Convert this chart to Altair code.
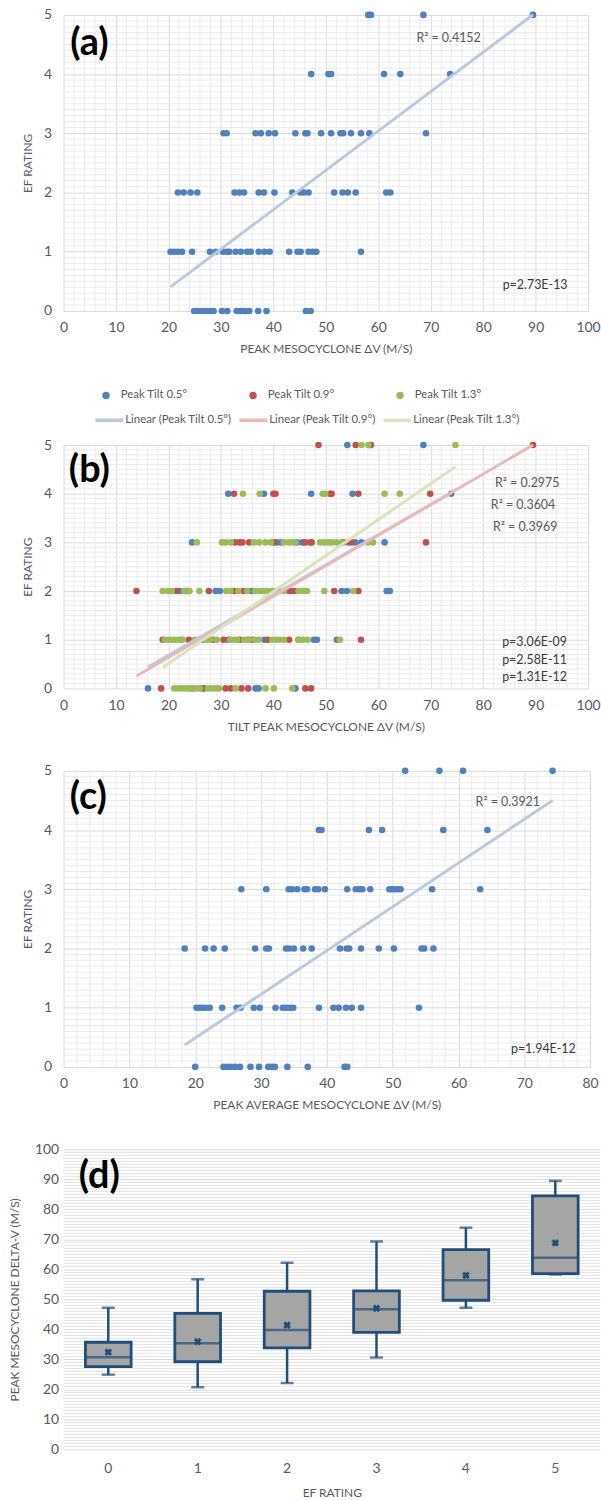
import altair as alt
import pandas as pd

FONT = "Lato"
AXIS_TEXT = "#595959"
NOTE_TEXT = "#3a3a3a"
MAJOR_GRID = "#d9d9d9"
MINOR_GRID = "#ebebeb"
BOX_GRID = "#e2e2e2"
BLUE, RED, GREEN = "#4f81bd", "#c0504d", "#9bbb59"
TREND_BLUE, TREND_RED, TREND_GREEN = "#b9c9de", "#e8b9b8", "#d7e4bd"
BOX_EDGE, BOX_FILL = "#1f4e79", "#a5a5a5"

# ---- (a) peak mesocyclone dV (m/s) of each tornado, grouped by EF rating ----
a_ef0 = [24.9, 25.6, 26.4, 27.2, 28.0, 28.6, 30.2, 31.2, 33.0, 33.8, 34.6, 35.4, 37.1, 38.7, 46.2, 47.1]
a_ef1 = [20.4, 21.1, 21.8, 22.6, 24.5, 27.9, 29.0, 30.4, 31.1, 31.6, 32.8, 33.8, 35.0, 35.7, 37.2,
         38.3, 39.3, 43.0, 44.6, 45.2, 46.7, 47.5, 48.2, 56.7]
a_ef2 = [21.8, 22.9, 24.2, 25.5, 32.6, 33.5, 34.4, 37.2, 38.2, 40.2, 43.6, 45.1, 45.8, 46.7, 51.6,
         53.2, 54.2, 55.7, 61.5, 62.3]
a_ef3 = [30.5, 31.1, 36.6, 37.6, 39.1, 40.3, 44.2, 46.1, 46.5, 49.1, 51.0, 52.8, 53.3, 54.8, 56.7,
         58.3, 69.1]
a_ef4 = [47.2, 50.5, 51.0, 61.1, 64.2, 73.7]
a_ef5 = [58.1, 58.6, 68.6, 89.5]
# least-squares trend (EF = slope * dV + intercept)
a_fit = (0.0665, -0.95)

# ---- (b) peak dV at each radar tilt ----
tilt_names = ["Peak Tilt 0.5°", "Peak Tilt 0.9°", "Peak Tilt 1.3°"]
b05 = [
    [16.1, 24.5, 26.8, 36.6, 37.2, 44.2],
    [22.5, 26.5, 31.4, 35.2, 38.3, 44.8, 47.7, 48.3, 52.1],
    [22.2, 23.8, 29.0, 29.8, 35.8, 40.9, 43.6, 53.0, 54.0, 61.6, 62.2],
    [24.5, 40.7, 41.5, 44.5, 45.5, 47.0, 54.3, 55.6, 56.8, 61.2],
    [31.4, 38.2, 47.2, 55.1, 73.9],
    [54.1, 58.4, 68.6],
]
b09 = [
    [18.6, 26.5, 30.9, 31.9, 33.9, 35.2, 46.1, 47.2],
    [18.9, 23.9, 28.5, 30.5, 33.6, 36.0, 39.0, 43.0, 56.7],
    [13.9, 21.5, 23.2, 27.7, 32.6, 34.3, 43.0, 44.2, 51.6, 56.2],
    [32.6, 33.5, 34.1, 35.4, 40.1, 46.1, 47.3, 53.3, 54.9, 69.1],
    [32.5, 40.0, 40.4, 50.8, 51.1, 56.2, 69.9],
    [48.6, 55.7, 58.6, 89.5],
]
b13 = [
    [21.1, 21.8, 22.5, 23.2, 23.9, 24.6, 25.3, 26.0, 27.5, 28.2, 28.9, 29.6, 32.8, 38.5, 40.1, 43.6],
    [19.3, 20.0, 20.7, 21.3, 22.0, 22.7, 25.0, 25.8, 27.3, 28.0, 29.2, 31.8, 32.5, 33.1, 34.5, 35.3,
     36.5, 37.2, 39.8, 40.5, 41.2, 42.0, 44.8, 45.6, 46.5, 52.7],
    [18.9, 19.9, 20.6, 23.0, 24.0, 25.9, 31.0, 31.8, 33.3, 35.0, 36.5, 37.3, 38.0, 38.8, 39.6, 40.4,
     42.0, 44.8, 45.6, 46.4, 49.7, 55.2],
    [25.4, 30.2, 30.9, 31.9, 36.3, 37.3, 38.5, 39.5, 42.0, 42.9, 43.6, 44.2, 48.9, 49.7, 50.5, 51.1,
     52.0, 53.0, 58.1, 59.0],
    [34.2, 37.4, 49.4, 49.9, 61.2, 64.1],
    [56.8, 58.1, 74.7],
]
b_fit = [(0.0619, -0.558), (0.0628, -0.619), (0.0739, -0.967)]

# ---- (c) peak average mesocyclone dV ----
c_ef0 = [20.0, 24.3, 24.9, 25.5, 26.1, 26.8, 28.4, 29.7, 31.1, 31.6, 32.1, 34.0, 37.1, 42.7, 43.1]
c_ef1 = [20.2, 20.7, 21.1, 21.6, 22.2, 24.1, 26.3, 26.9, 28.9, 29.8, 32.2, 33.3, 33.8, 34.4, 34.9,
         38.8, 41.0, 41.8, 42.9, 43.8, 45.2, 54.0]
c_ef2 = [18.4, 21.5, 22.8, 24.5, 29.1, 30.8, 31.2, 33.8, 34.3, 35.0, 36.4, 37.7, 42.0, 43.0, 43.4,
         45.2, 47.9, 50.2, 54.4, 54.8, 56.2]
c_ef3 = [27.0, 30.8, 34.2, 34.7, 35.5, 36.6, 37.0, 38.2, 38.7, 39.7, 43.1, 44.4, 45.0, 45.4, 46.6,
         49.5, 49.9, 50.3, 50.8, 51.2, 56.0, 63.3]
c_ef4 = [38.8, 39.2, 46.4, 48.4, 57.7, 64.4]
c_ef5 = [51.9, 57.1, 60.7, 74.3]
c_fit = (0.0739, -0.99)

# ---- (d) box-and-whisker summary of peak mesocyclone delta-V ----
d_ratings = ["0", "1", "2", "3", "4", "5"]
d_min = [24.9, 20.7, 22.1, 30.6, 47.2, 58.3]
d_q1 = [27.6, 29.2, 33.8, 39.0, 49.7, 58.6]
d_median = [30.7, 35.4, 39.8, 46.7, 56.4, 63.9]
d_q3 = [35.7, 45.3, 52.7, 52.8, 66.6, 84.5]
d_max = [47.2, 56.7, 62.2, 69.3, 73.9, 89.5]
d_mean = [32.4, 35.9, 41.4, 47.0, 58.0, 68.8]


def by_rating(groups, series=""):
    return pd.DataFrame([{"dv": v, "ef": r, "series": series}
                         for r, vals in enumerate(groups) for v in vals])


def trend_lines(points, fits):
    """Fitted line of each series, spanning that series' own dV range."""
    rows = []
    for (name, grp), (slope, icpt) in zip(points.groupby("series", sort=False), fits):
        for x in (grp["dv"].min(), grp["dv"].max()):
            rows.append({"dv": x, "ef": slope * x + icpt, "series": name,
                         "trend": "Linear (" + name + ")" if name else "Linear"})
    return pd.DataFrame(rows)


def text_style(size):
    return dict(labelFont=FONT, labelFontSize=size, labelColor=AXIS_TEXT,
                titleFont=FONT, titleFontSize=12, titleFontWeight="normal", titleColor=AXIS_TEXT)


def dv_x(xmax, title):
    return alt.X("dv:Q", scale=alt.Scale(domain=[0, xmax], nice=False),
                 axis=alt.Axis(values=list(range(0, xmax + 1, 10)), title=title, grid=True,
                               gridColor=MAJOR_GRID, domain=False, ticks=False, labelFlush=False,
                               labelPadding=10, titlePadding=9, **text_style(14)))


def ef_y():
    return alt.Y("ef:Q", scale=alt.Scale(domain=[0, 5], nice=False),
                 axis=alt.Axis(values=[0, 1, 2, 3, 4, 5], format="d", title="EF RATING", grid=True,
                               gridColor=MAJOR_GRID, domain=False, ticks=False, labelFlush=False,
                               labelPadding=12, titlePadding=9, **text_style(14)))


def scatter_panel(points, fits, xmax, xtitle, width, height, tag, tag_xy, r2_notes, p_notes,
                  dot_fill, trend_stroke):
    vgrid = pd.DataFrame({"dv": [float(v) for v in range(2, xmax, 2) if v % 10]})
    hgrid = pd.DataFrame({"ef": [i / 10 for i in range(1, 50) if i % 10]})
    layers = [
        alt.Chart(vgrid).mark_rule(color=MINOR_GRID, strokeWidth=1).encode(x=dv_x(xmax, xtitle)),
        alt.Chart(hgrid).mark_rule(color=MINOR_GRID, strokeWidth=1).encode(y=ef_y()),
        alt.Chart(points).mark_circle(size=44, opacity=1).encode(
            x=dv_x(xmax, xtitle), y=ef_y(), fill=dot_fill),
        alt.Chart(trend_lines(points, fits)).mark_line(strokeWidth=3)
        .encode(x=dv_x(xmax, xtitle), y=ef_y(), stroke=trend_stroke, detail="series:N"),
        alt.Chart(pd.DataFrame(r2_notes, columns=["dv", "ef", "note"]))
        .mark_text(font=FONT, fontSize=12.5, color=AXIS_TEXT)
        .encode(x=dv_x(xmax, xtitle), y=ef_y(), text="note:N"),
        alt.Chart(pd.DataFrame(p_notes, columns=["dv", "ef", "note"]))
        .mark_text(font=FONT, fontSize=12.5, color=NOTE_TEXT)
        .encode(x=dv_x(xmax, xtitle), y=ef_y(), text="note:N"),
        alt.Chart(pd.DataFrame({"tag": [tag]}))
        .mark_text(font=FONT, fontSize=38, fontWeight="bold", color="black")
        .encode(x=alt.value(tag_xy[0]), y=alt.value(tag_xy[1]), text="tag:N"),
    ]
    return alt.layer(*layers).properties(width=width, height=height)


# (a)
pts_a = by_rating([a_ef0, a_ef1, a_ef2, a_ef3, a_ef4, a_ef5])
panel_a = scatter_panel(
    pts_a, [a_fit], 100, "PEAK MESOCYCLONE ΔV (M/S)", 528, 298, "(a)", (26, 29),
    [(73.4, 4.61, "R² = 0.4152")], [(89.9, 0.43, "p=2.73E-13")],
    alt.value(BLUE), alt.value(TREND_BLUE))

# (b)
pts_b = pd.concat([by_rating(b05, tilt_names[0]), by_rating(b09, tilt_names[1]),
                   by_rating(b13, tilt_names[2])], ignore_index=True)
trend_names = ["Linear (" + n + ")" for n in tilt_names]
legend_text = dict(labelFont=FONT, labelFontSize=11.5, labelColor=AXIS_TEXT, title=None,
                   orient="none", columns=3, gridAlign="all", direction="horizontal")
panel_b = scatter_panel(
    pts_b, b_fit, 100, "TILT PEAK MESOCYCLONE ΔV (M/S)", 528, 245, "(b)", (26, 26),
    [(88.4, 4.22, "R² = 0.2975"), (87.6, 3.76, "R² = 0.3604"), (88.0, 3.31, "R² = 0.3969")],
    [(89.8, 0.96, "p=3.06E-09"), (89.8, 0.59, "p=2.58E-11"), (89.8, 0.23, "p=1.31E-12")],
    alt.Fill("series:N", scale=alt.Scale(domain=tilt_names, range=[BLUE, RED, GREEN]),
             legend=alt.Legend(legendX=34, legendY=-59, padding=3, columnPadding=60,
                               symbolType="circle", symbolSize=55, symbolStrokeWidth=0,
                               labelOffset=9, **legend_text)),
    alt.Stroke("trend:N", scale=alt.Scale(domain=trend_names,
                                          range=[TREND_BLUE, TREND_RED, TREND_GREEN]),
               legend=alt.Legend(legendX=30, legendY=-41, padding=0, columnPadding=0,
                                 symbolType="stroke", symbolSize=784, symbolStrokeWidth=3.5,
                                 labelOffset=0, **legend_text)))

# (c)
pts_c = by_rating([c_ef0, c_ef1, c_ef2, c_ef3, c_ef4, c_ef5])
panel_c = scatter_panel(
    pts_c, [c_fit], 80, "PEAK AVERAGE MESOCYCLONE ΔV (M/S)", 530, 298, "(c)", (25, 27),
    [(67.5, 4.48, "R² = 0.3921")], [(72.9, 0.30, "p=1.94E-12")],
    alt.value(BLUE), alt.value(TREND_BLUE))

# (d)
box = pd.DataFrame({"ef": d_ratings, "lo": d_min, "q1": d_q1, "med": d_median,
                    "q3": d_q3, "hi": d_max, "mean": d_mean})
d_scale = alt.Scale(domain=[0, 100], nice=False)
d_axis = alt.Axis(values=list(range(0, 101, 10)), title="PEAK MESOCYCLONE DELTA-V (M/S)",
                  grid=True, gridColor=MAJOR_GRID, domain=False, ticks=False, labelFlush=False,
                  labelPadding=5, titlePadding=13, **text_style(14))


def dy(field):
    return alt.Y(f"{field}:Q", scale=d_scale, axis=d_axis)


dx = alt.X("ef:N", scale=alt.Scale(domain=d_ratings, paddingInner=0, paddingOuter=0),
           axis=alt.Axis(labelAngle=0, title="EF RATING", ticks=False, domain=False, grid=False,
                         labelPadding=12, titlePadding=12, **text_style(14)))

d_minor = pd.DataFrame({"v": [float(v) for v in range(1, 100) if v % 10]})
panel_d = alt.layer(
    alt.Chart(d_minor).mark_rule(color=BOX_GRID, strokeWidth=1).encode(y=dy("v")),
    alt.Chart(box).mark_rule(color=BOX_EDGE, strokeWidth=2.5).encode(x=dx, y=dy("hi"), y2="q3"),
    alt.Chart(box).mark_rule(color=BOX_EDGE, strokeWidth=2.5).encode(x=dx, y=dy("q1"), y2="lo"),
    alt.Chart(box).mark_bar(size=46, fill=BOX_FILL, stroke=BOX_EDGE, strokeWidth=2.8)
    .encode(x=dx, y=dy("q3"), y2="q1"),
    alt.Chart(box).mark_tick(size=46, thickness=2.5, color=BOX_EDGE).encode(x=dx, y=dy("med")),
    alt.Chart(box).mark_tick(size=13, thickness=2.5, color=BOX_EDGE).encode(x=dx, y=dy("hi")),
    alt.Chart(box).mark_tick(size=13, thickness=2.5, color=BOX_EDGE).encode(x=dx, y=dy("lo")),
    alt.Chart(box).mark_point(shape="cross", angle=45, filled=True, size=60, color=BOX_EDGE,
                              opacity=1).encode(x=dx, y=dy("mean")),
    alt.Chart(pd.DataFrame({"tag": ["(d)"]}))
    .mark_text(font=FONT, fontSize=38, fontWeight="bold", color="black")
    .encode(x=alt.value(36), y=alt.value(28), text="tag:N"),
).properties(width=540, height=302)

chart = (
    alt.vconcat(panel_a, panel_b, panel_c, panel_d, spacing=32)
    .resolve_scale(fill="independent", stroke="independent")
    .properties(padding={"left": 8, "top": 3, "right": 0, "bottom": 0}, background="white")
    .configure_view(stroke=None)
)

chart.save("out.html", embed_options={"renderer": "svg", "actions": False})
